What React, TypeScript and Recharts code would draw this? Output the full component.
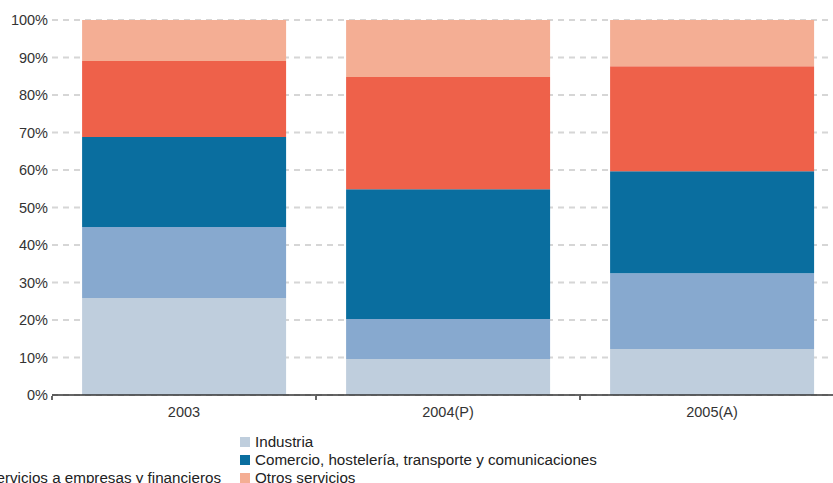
import React from 'react';
import { BarChart, Bar, XAxis, YAxis, CartesianGrid } from 'recharts';

const years = ['2003', '2004(P)', '2005(A)'];

const industria = [25.9, 9.6, 12.3];
const construccion = [18.9, 10.7, 20.2];
const comercio = [24.0, 34.6, 27.2];
const servicios = [20.3, 29.9, 28.0];
const otros = [10.9, 15.2, 12.3];

const yTicks = [0, 10, 20, 30, 40, 50, 60, 70, 80, 90, 100];

const series = [
  { key: 'industria', name: 'Industria', color: '#bfcedd', values: industria },
  { key: 'construccion', name: 'Construcción', color: '#87a9cf', values: construccion },
  { key: 'comercio', name: 'Comercio, hostelería, transporte y comunicaciones', color: '#0a6e9f', values: comercio },
  { key: 'servicios', name: 'Servicios a empresas y financieros', color: '#ee614a', values: servicios },
  { key: 'otros', name: 'Otros servicios', color: '#f4ae94', values: otros },
];

const data = years.map((year, i) => {
  const row: Record<string, string | number> = { year };
  series.forEach((s) => {
    row[s.key] = s.values[i];
  });
  return row;
});

const BAND = 264;

const YearTick = (props: any) => {
  const { x, y, payload } = props;
  return (
    <g>
      <line x1={x - BAND / 2} x2={x - BAND / 2} y1={y - 1} y2={y + 3} stroke="#333" strokeWidth={1.5} />
      <text x={x} y={y + 10} dy="0.71em" textAnchor="middle" fill="#333" fontSize={14.5}>
        {payload.value}
      </text>
    </g>
  );
};

const Swatch = ({ color }: { color: string }) => (
  <span style={{ display: 'inline-block', width: 10, height: 10, background: color, marginRight: 5 }} />
);

export default function App() {
  const rightCol = [series[0], series[2], series[4]];
  return (
    <div
      style={{
        position: 'absolute',
        left: 0,
        top: 0,
        width: 833,
        height: 483,
        overflow: 'hidden',
        background: '#fff',
        fontFamily: '"Liberation Sans", Arial, sans-serif',
      }}
    >
      <BarChart
        width={844}
        height={425}
        data={data}
        margin={{ top: 20, right: 0, left: 0, bottom: 0 }}
        barCategoryGap="11.4%"
      >
        <CartesianGrid vertical={false} stroke="#d6d6d6" strokeWidth={2} strokeDasharray="6 5" />
        <YAxis
          width={52}
          domain={[0, 100]}
          ticks={yTicks}
          tickFormatter={(v) => `${v}%`}
          axisLine={false}
          tickLine={false}
          tickSize={0}
          tickMargin={4}
          tick={{ fill: '#333', fontSize: 14.5 }}
        />
        <XAxis
          dataKey="year"
          height={30}
          axisLine={{ stroke: '#333', strokeWidth: 1.5 }}
          tickLine={false}
          tickSize={0}
          tick={<YearTick />}
          interval={0}
        />
        {series.map((s) => (
          <Bar key={s.key} dataKey={s.key} name={s.name} stackId="a" fill={s.color} isAnimationActive={false} />
        ))}
      </BarChart>
      {rightCol.map((s, i) => (
        <div
          key={s.key}
          style={{
            position: 'absolute',
            left: 240,
            top: 434 + i * 18,
            fontSize: 15.2,
            color: '#222',
            whiteSpace: 'nowrap',
            display: 'flex',
            alignItems: 'center',
            lineHeight: '16px',
          }}
        >
          <Swatch color={s.color} />
          {s.name}
        </div>
      ))}
      <div
        style={{
          position: 'absolute',
          right: 833 - 221,
          top: 470,
          fontSize: 15.2,
          color: '#222',
          whiteSpace: 'nowrap',
          display: 'flex',
          alignItems: 'center',
          lineHeight: '16px',
        }}
      >
        <Swatch color={series[3].color} />
        {series[3].name}
      </div>
    </div>
  );
}
